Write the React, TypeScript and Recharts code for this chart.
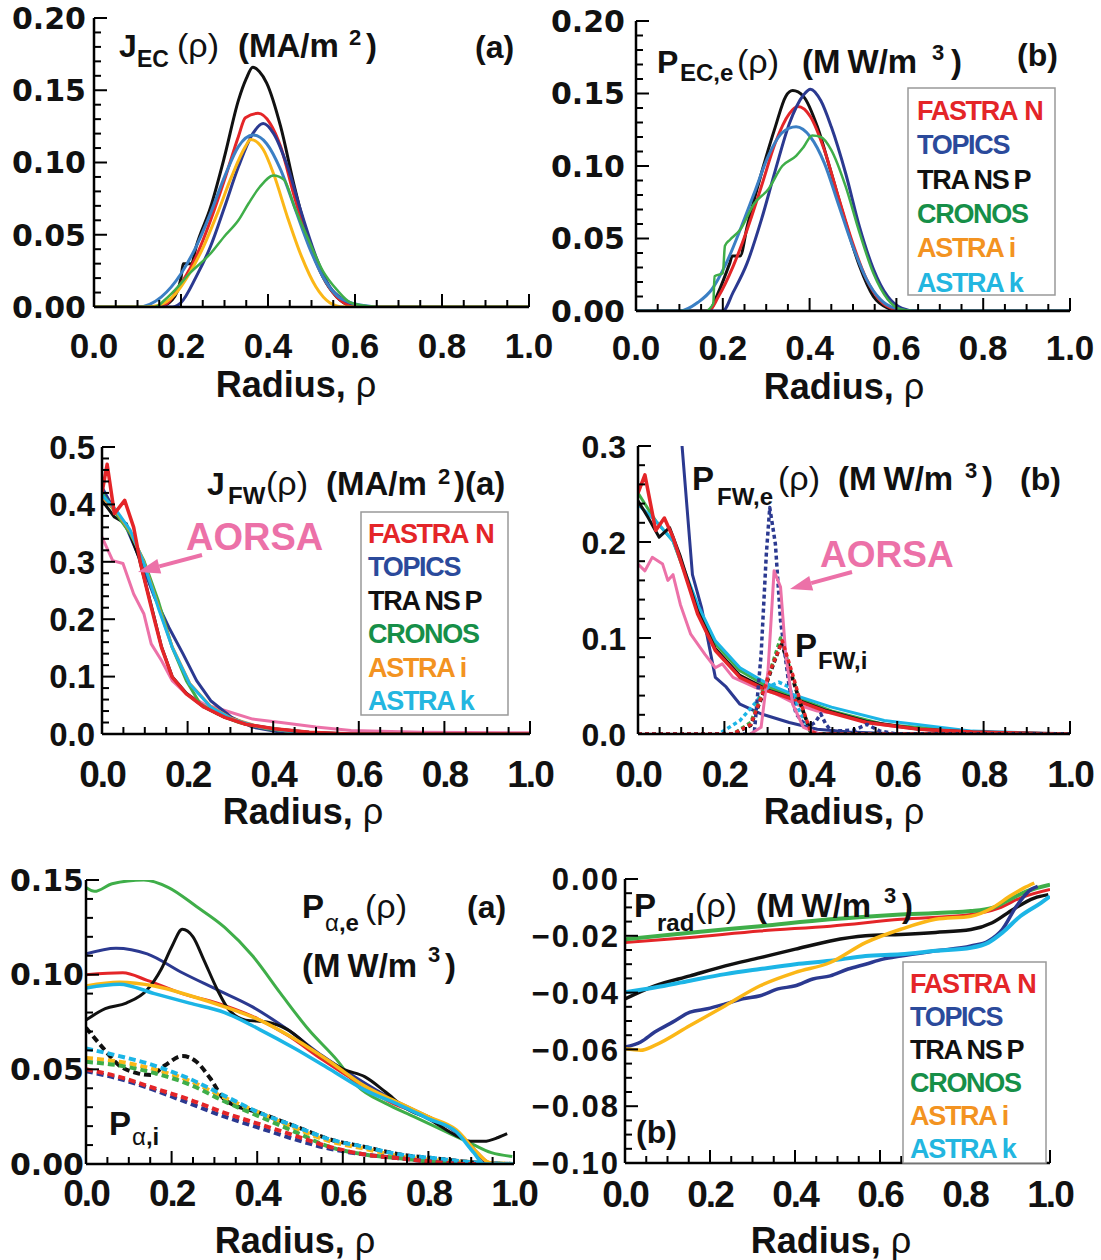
import React from "react";
import { LineChart, Line, XAxis, YAxis } from "recharts";

type Pt = [number, number];

// ---- colours ----
const RED = "#e42528";
const BLUE = "#2b3990";
const BLACK = "#111111";
const GREEN = "#3fae49";
const YELLOW = "#fbb717";
const STEEL = "#3b7fc4";
const CYAN = "#1cb5e6";
const PINK = "#ec71a8";

const LS = "'Liberation Sans', Arial, sans-serif";
const DV = "'DejaVu Sans', sans-serif";

// ---- shared axis labels ----
const xMajor = [0, 0.2, 0.4, 0.6, 0.8, 1.0];
const xLabels = ["0.0", "0.2", "0.4", "0.6", "0.8", "1.0"];

// ---- (1) J_EC ----
const ecJFastran: Pt[] = [[0, 0], [0.15, 0], [0.17, 0.003], [0.2, 0.016], [0.235, 0.035], [0.268, 0.06], [0.3, 0.088], [0.332, 0.118], [0.348, 0.131], [0.377, 0.134], [0.405, 0.127], [0.429, 0.111], [0.461, 0.076], [0.494, 0.044], [0.526, 0.021], [0.558, 0.007], [0.59, 0.001], [0.62, 0], [1, 0]];
const ecJTopics: Pt[] = [[0, 0], [0.18, 0], [0.2, 0.003], [0.235, 0.021], [0.268, 0.042], [0.3, 0.069], [0.332, 0.097], [0.365, 0.12], [0.389, 0.127], [0.413, 0.12], [0.445, 0.097], [0.477, 0.065], [0.51, 0.035], [0.542, 0.014], [0.574, 0.005], [0.606, 0.001], [0.63, 0], [1, 0]];
const ecJTransp: Pt[] = [[0, 0], [0.15, 0], [0.18, 0.005], [0.2, 0.02], [0.205, 0.03], [0.224, 0.03], [0.235, 0.042], [0.268, 0.069], [0.3, 0.104], [0.332, 0.143], [0.35, 0.158], [0.365, 0.166], [0.38, 0.163], [0.397, 0.155], [0.429, 0.125], [0.461, 0.083], [0.494, 0.046], [0.526, 0.021], [0.558, 0.007], [0.59, 0.001], [0.62, 0], [1, 0]];
const ecJCronos: Pt[] = [[0, 0], [0.14, 0], [0.163, 0.005], [0.187, 0.012], [0.219, 0.023], [0.268, 0.037], [0.3, 0.049], [0.332, 0.06], [0.356, 0.072], [0.381, 0.083], [0.413, 0.091], [0.437, 0.088], [0.461, 0.069], [0.494, 0.046], [0.526, 0.025], [0.558, 0.012], [0.59, 0.003], [0.62, 0.001], [0.65, 0], [1, 0]];
const ecJAstraI: Pt[] = [[0, 0], [0.12, 0], [0.147, 0.001], [0.187, 0.009], [0.219, 0.023], [0.252, 0.042], [0.284, 0.065], [0.316, 0.09], [0.348, 0.111], [0.36, 0.116], [0.389, 0.109], [0.413, 0.092], [0.445, 0.062], [0.477, 0.035], [0.51, 0.014], [0.542, 0.003], [0.574, 0], [1, 0]];
const ecJAstraK: Pt[] = [[0, 0], [0.1, 0], [0.155, 0.007], [0.2, 0.023], [0.235, 0.042], [0.268, 0.065], [0.3, 0.09], [0.332, 0.111], [0.365, 0.119], [0.397, 0.113], [0.429, 0.095], [0.461, 0.069], [0.494, 0.042], [0.526, 0.021], [0.558, 0.008], [0.59, 0.003], [0.62, 0.001], [0.65, 0], [1, 0]];

// ---- (2) P_EC,e ----
const ecPFastran: Pt[] = [[0, 0], [0.167, 0], [0.19, 0.01], [0.224, 0.031], [0.256, 0.056], [0.289, 0.086], [0.321, 0.116], [0.353, 0.136], [0.373, 0.141], [0.402, 0.134], [0.434, 0.111], [0.466, 0.079], [0.499, 0.047], [0.531, 0.022], [0.563, 0.007], [0.596, 0.001], [0.62, 0], [1, 0]];
const ecPTopics: Pt[] = [[0, 0], [0.2, 0], [0.224, 0.013], [0.256, 0.033], [0.289, 0.063], [0.321, 0.097], [0.353, 0.129], [0.386, 0.149], [0.402, 0.153], [0.426, 0.145], [0.45, 0.127], [0.483, 0.095], [0.515, 0.058], [0.547, 0.029], [0.58, 0.01], [0.612, 0.002], [0.644, 0], [1, 0]];
const ecPTransp: Pt[] = [[0, 0], [0.167, 0], [0.19, 0.013], [0.216, 0.033], [0.222, 0.038], [0.24, 0.038], [0.256, 0.058], [0.289, 0.095], [0.321, 0.127], [0.345, 0.148], [0.361, 0.152], [0.386, 0.148], [0.418, 0.127], [0.45, 0.095], [0.483, 0.061], [0.515, 0.031], [0.547, 0.01], [0.58, 0.002], [0.61, 0], [1, 0]];
const ecPCronos: Pt[] = [[0, 0], [0.159, 0], [0.178, 0.005], [0.181, 0.024], [0.2, 0.026], [0.205, 0.045], [0.216, 0.049], [0.24, 0.056], [0.272, 0.074], [0.305, 0.084], [0.337, 0.1], [0.369, 0.107], [0.386, 0.113], [0.406, 0.121], [0.426, 0.12], [0.45, 0.111], [0.483, 0.086], [0.515, 0.054], [0.547, 0.026], [0.58, 0.008], [0.612, 0.001], [0.64, 0], [1, 0]];
const ecPAstraK: Pt[] = [[0, 0], [0.1, 0], [0.143, 0.006], [0.175, 0.015], [0.208, 0.033], [0.24, 0.056], [0.272, 0.081], [0.305, 0.107], [0.337, 0.123], [0.369, 0.127], [0.402, 0.12], [0.434, 0.102], [0.466, 0.074], [0.499, 0.045], [0.531, 0.022], [0.563, 0.008], [0.596, 0.002], [0.644, 0], [1, 0]];

// ---- (3) J_FW ----
const fwJFastran: Pt[] = [[0, 0.42], [0.012, 0.47], [0.029, 0.384], [0.053, 0.407], [0.074, 0.36], [0.09, 0.297], [0.115, 0.221], [0.139, 0.151], [0.164, 0.099], [0.197, 0.07], [0.238, 0.047], [0.287, 0.029], [0.336, 0.017], [0.402, 0.009], [0.484, 0.003], [0.582, 0], [1, 0]];
const fwJTopics: Pt[] = [[0, 0.43], [0.025, 0.395], [0.057, 0.36], [0.09, 0.302], [0.123, 0.238], [0.156, 0.186], [0.189, 0.14], [0.221, 0.093], [0.254, 0.058], [0.303, 0.029], [0.352, 0.012], [0.418, 0.003], [0.5, 0], [1, 0]];
const fwJTransp: Pt[] = [[0, 0.407], [0.029, 0.378], [0.057, 0.366], [0.086, 0.308], [0.115, 0.224], [0.139, 0.152], [0.164, 0.1], [0.197, 0.071], [0.238, 0.047], [0.287, 0.029], [0.336, 0.017], [0.402, 0.009], [0.484, 0.003], [0.582, 0], [1, 0]];
const fwJCronos: Pt[] = [[0, 0.42], [0.033, 0.384], [0.066, 0.349], [0.098, 0.302], [0.131, 0.233], [0.164, 0.151], [0.197, 0.093], [0.23, 0.052], [0.27, 0.035], [0.32, 0.02], [0.385, 0.009], [0.467, 0.002], [0.55, 0], [1, 0]];
const fwJAstraI: Pt[] = [[0, 0.413], [0.033, 0.388], [0.066, 0.353], [0.098, 0.299], [0.131, 0.224], [0.164, 0.152], [0.205, 0.088], [0.254, 0.048], [0.303, 0.027], [0.369, 0.012], [0.451, 0.003], [0.55, 0], [1, 0]];
const fwJAstraK: Pt[] = [[0, 0.416], [0.033, 0.39], [0.066, 0.355], [0.098, 0.297], [0.131, 0.221], [0.164, 0.151], [0.205, 0.087], [0.254, 0.047], [0.303, 0.026], [0.369, 0.012], [0.451, 0.003], [0.55, 0], [1, 0]];
const fwJAorsa: Pt[] = [[0, 0.343], [0.025, 0.302], [0.049, 0.297], [0.074, 0.244], [0.098, 0.209], [0.115, 0.157], [0.139, 0.128], [0.164, 0.093], [0.197, 0.07], [0.238, 0.052], [0.287, 0.041], [0.352, 0.026], [0.418, 0.02], [0.5, 0.012], [0.582, 0.006], [0.746, 0.003], [1, 0.002]];

// ---- (4) P_FW,e (solid) and P_FW,i (dotted) ----
const fwPFastran: Pt[] = [[0, 0.251], [0.016, 0.27], [0.041, 0.212], [0.061, 0.225], [0.081, 0.205], [0.106, 0.17], [0.138, 0.125], [0.179, 0.087], [0.236, 0.059], [0.301, 0.045], [0.366, 0.035], [0.432, 0.024], [0.529, 0.012], [0.651, 0.005], [0.774, 0.002], [1, 0]];
const fwPTopics: Pt[] = [[0, 0.6], [0.05, 0.48], [0.09, 0.36], [0.102, 0.3], [0.126, 0.166], [0.147, 0.132], [0.179, 0.059], [0.204, 0.049], [0.236, 0.031], [0.285, 0.021], [0.35, 0.012], [0.415, 0.005], [0.489, 0.002], [0.61, 0], [1, 0]];
const fwPTransp: Pt[] = [[0, 0.243], [0.024, 0.225], [0.049, 0.205], [0.073, 0.215], [0.098, 0.185], [0.138, 0.128], [0.179, 0.089], [0.236, 0.061], [0.301, 0.046], [0.366, 0.036], [0.432, 0.025], [0.529, 0.013], [0.651, 0.005], [0.774, 0.002], [1, 0]];
const fwPCronos: Pt[] = [[0, 0.251], [0.041, 0.222], [0.081, 0.201], [0.138, 0.132], [0.179, 0.094], [0.236, 0.066], [0.301, 0.049], [0.366, 0.038], [0.448, 0.024], [0.57, 0.01], [0.774, 0.002], [1, 0]];
const fwPAstraK: Pt[] = [[0, 0.239], [0.041, 0.222], [0.081, 0.201], [0.138, 0.135], [0.179, 0.097], [0.236, 0.069], [0.301, 0.052], [0.366, 0.04], [0.448, 0.028], [0.57, 0.014], [0.774, 0.003], [1, 0]];
const fwPAorsa: Pt[] = [[0, 0.177], [0.016, 0.17], [0.033, 0.184], [0.057, 0.177], [0.069, 0.16], [0.081, 0.166], [0.098, 0.135], [0.122, 0.104], [0.155, 0.083], [0.179, 0.069], [0.195, 0.073], [0.22, 0.059], [0.269, 0.049], [0.318, 0.042], [0.366, 0.031], [0.415, 0.024], [0.464, 0.021], [0.529, 0.012], [0.61, 0.007], [0.733, 0.002], [1, 0]];
const fwPiAorsa: Pt[] = [[0.26, 0], [0.285, 0.007], [0.301, 0.066], [0.315, 0.17], [0.33, 0.153], [0.342, 0.083], [0.358, 0.031], [0.383, 0.007], [0.42, 0]];
const fwPiTopics: Pt[] = [[0, 0], [0.269, 0], [0.285, 0.083], [0.297, 0.187], [0.305, 0.236], [0.318, 0.198], [0.33, 0.118], [0.35, 0.049], [0.366, 0.021], [0.391, 0.007], [0.41, 0.012], [0.423, 0.021], [0.435, 0.01], [0.448, 0.003], [0.5, 0.004], [0.53, 0.01], [0.56, 0.003], [0.6, 0], [1, 0]];
const fwPiFastran: Pt[] = [[0, 0], [0.22, 0], [0.261, 0.01], [0.285, 0.038], [0.309, 0.069], [0.334, 0.097], [0.358, 0.062], [0.375, 0.035], [0.399, 0.003], [0.415, 0], [1, 0]];
const fwPiTransp: Pt[] = [[0, 0], [0.22, 0], [0.261, 0.009], [0.285, 0.036], [0.309, 0.067], [0.332, 0.095], [0.356, 0.06], [0.375, 0.033], [0.399, 0.003], [0.415, 0], [1, 0]];
const fwPiCronos: Pt[] = [[0, 0], [0.22, 0], [0.261, 0.012], [0.285, 0.04], [0.309, 0.07], [0.33, 0.1], [0.356, 0.062], [0.375, 0.033], [0.399, 0.002], [0.415, 0], [1, 0]];
const fwPiAstraK: Pt[] = [[0, 0], [0.187, 0], [0.236, 0.014], [0.269, 0.031], [0.301, 0.049], [0.326, 0.054], [0.35, 0.049], [0.366, 0.031], [0.399, 0.003], [0.42, 0], [1, 0]];

// ---- (5) P_alpha,e (solid) and P_alpha,i (dashed) ----
const alECronos: Pt[] = [[0, 0.146], [0.02, 0.144], [0.061, 0.148], [0.135, 0.15], [0.193, 0.146], [0.258, 0.136], [0.324, 0.125], [0.389, 0.11], [0.455, 0.09], [0.52, 0.071], [0.586, 0.055], [0.635, 0.041], [0.7, 0.032], [0.766, 0.025], [0.832, 0.018], [0.898, 0.011], [0.947, 0.006], [0.996, 0.004]];
const alETopics: Pt[] = [[0, 0.111], [0.07, 0.114], [0.143, 0.111], [0.225, 0.101], [0.307, 0.092], [0.389, 0.083], [0.471, 0.071], [0.553, 0.057], [0.635, 0.045], [0.717, 0.034], [0.799, 0.025], [0.857, 0.018], [0.898, 0.01], [0.93, 0.002], [0.947, 0], [1, 0]];
const alEFastran: Pt[] = [[0, 0.1], [0.086, 0.101], [0.143, 0.097], [0.225, 0.09], [0.307, 0.085], [0.389, 0.078], [0.471, 0.068], [0.553, 0.055], [0.635, 0.043], [0.717, 0.032], [0.799, 0.025], [0.865, 0.017], [0.914, 0.006], [0.939, 0.001], [0.96, 0], [1, 0]];
const alEAstraI: Pt[] = [[0, 0.094], [0.078, 0.096], [0.16, 0.094], [0.242, 0.089], [0.324, 0.083], [0.406, 0.076], [0.488, 0.066], [0.57, 0.054], [0.652, 0.041], [0.734, 0.032], [0.799, 0.025], [0.865, 0.018], [0.914, 0.006], [0.939, 0.001], [0.96, 0], [1, 0]];
const alEAstraK: Pt[] = [[0, 0.093], [0.078, 0.095], [0.16, 0.09], [0.242, 0.085], [0.324, 0.08], [0.406, 0.071], [0.488, 0.061], [0.57, 0.05], [0.652, 0.039], [0.734, 0.031], [0.799, 0.024], [0.865, 0.017], [0.906, 0.006], [0.93, 0], [1, 0]];
const alETransp: Pt[] = [[0, 0.076], [0.045, 0.082], [0.094, 0.085], [0.143, 0.092], [0.176, 0.103], [0.201, 0.115], [0.225, 0.124], [0.25, 0.12], [0.275, 0.108], [0.307, 0.092], [0.332, 0.082], [0.373, 0.076], [0.422, 0.075], [0.471, 0.071], [0.537, 0.059], [0.602, 0.05], [0.652, 0.046], [0.7, 0.038], [0.75, 0.029], [0.799, 0.024], [0.865, 0.015], [0.898, 0.012], [0.93, 0.012], [0.963, 0.014], [0.984, 0.016]];
const alITransp: Pt[] = [[0, 0.072], [0.037, 0.062], [0.078, 0.052], [0.119, 0.048], [0.152, 0.047], [0.184, 0.052], [0.225, 0.057], [0.258, 0.054], [0.291, 0.045], [0.324, 0.034], [0.406, 0.027], [0.488, 0.02], [0.57, 0.013], [0.652, 0.009], [0.734, 0.005], [0.816, 0.003], [0.898, 0.001], [1, 0]];
const alIAstraK: Pt[] = [[0, 0.061], [0.078, 0.057], [0.16, 0.052], [0.242, 0.045], [0.324, 0.036], [0.406, 0.027], [0.488, 0.02], [0.57, 0.013], [0.652, 0.009], [0.734, 0.005], [0.816, 0.003], [0.898, 0.001], [1, 0]];
const alIAstraI: Pt[] = [[0, 0.056], [0.078, 0.054], [0.16, 0.05], [0.242, 0.044], [0.324, 0.035], [0.406, 0.027], [0.488, 0.019], [0.57, 0.012], [0.652, 0.008], [0.734, 0.004], [0.816, 0.002], [0.898, 0.001], [1, 0]];
const alICronos: Pt[] = [[0, 0.054], [0.078, 0.052], [0.16, 0.048], [0.242, 0.042], [0.324, 0.033], [0.406, 0.025], [0.488, 0.017], [0.57, 0.009], [0.652, 0.005], [0.734, 0.003], [0.816, 0.001], [0.9, 0], [1, 0]];
const alIFastran: Pt[] = [[0, 0.05], [0.078, 0.046], [0.16, 0.04], [0.242, 0.034], [0.324, 0.027], [0.406, 0.021], [0.488, 0.015], [0.57, 0.009], [0.652, 0.005], [0.734, 0.003], [0.816, 0.001], [0.9, 0], [1, 0]];
const alITopics: Pt[] = [[0, 0.049], [0.078, 0.045], [0.16, 0.039], [0.242, 0.032], [0.324, 0.025], [0.406, 0.019], [0.488, 0.013], [0.57, 0.008], [0.652, 0.005], [0.734, 0.003], [0.816, 0.001], [0.9, 0], [1, 0]];

// ---- (6) P_rad ----
const radCronos: Pt[] = [[0, -0.0212], [0.153, -0.0189], [0.318, -0.0166], [0.483, -0.0142], [0.649, -0.0125], [0.814, -0.0113], [0.864, -0.0102], [0.897, -0.0078], [0.946, -0.0043], [1, -0.002]];
const radFastran: Pt[] = [[0, -0.0224], [0.153, -0.0206], [0.318, -0.0183], [0.483, -0.0166], [0.649, -0.0142], [0.814, -0.0125], [0.88, -0.0102], [0.93, -0.0067], [1, -0.0037]];
const radTransp: Pt[] = [[0, -0.0422], [0.07, -0.0376], [0.153, -0.0341], [0.236, -0.0306], [0.318, -0.0277], [0.401, -0.0247], [0.483, -0.0218], [0.566, -0.02], [0.649, -0.0195], [0.731, -0.0188], [0.814, -0.0178], [0.864, -0.0154], [0.913, -0.0107], [0.963, -0.0067], [0.996, -0.0055]];
const radAstraK: Pt[] = [[0, -0.0399], [0.07, -0.0382], [0.153, -0.0358], [0.236, -0.0335], [0.318, -0.0317], [0.401, -0.03], [0.483, -0.0288], [0.566, -0.0271], [0.649, -0.0265], [0.731, -0.0253], [0.814, -0.0242], [0.855, -0.0224], [0.888, -0.0189], [0.93, -0.0131], [0.979, -0.0084], [1, -0.0061]];
const radTopics: Pt[] = [[0, -0.0592], [0.037, -0.0574], [0.07, -0.0539], [0.112, -0.0504], [0.153, -0.0469], [0.194, -0.0457], [0.236, -0.044], [0.277, -0.0422], [0.318, -0.0411], [0.36, -0.0387], [0.401, -0.0376], [0.442, -0.0352], [0.483, -0.0341], [0.525, -0.0317], [0.566, -0.03], [0.607, -0.0282], [0.649, -0.0271], [0.731, -0.0253], [0.814, -0.0236], [0.855, -0.0218], [0.888, -0.0177], [0.921, -0.0096], [0.955, -0.0037], [0.971, -0.0026]];
const radAstraI: Pt[] = [[0, -0.0598], [0.037, -0.0603], [0.07, -0.0586], [0.153, -0.0516], [0.236, -0.0446], [0.318, -0.0376], [0.401, -0.0329], [0.483, -0.0294], [0.566, -0.0224], [0.649, -0.0177], [0.731, -0.0142], [0.814, -0.0131], [0.864, -0.0102], [0.905, -0.0061], [0.938, -0.0032], [0.963, -0.0014]];

// ---- legend ----
const legendNames = ["FASTRAN", "TOPICS", "TRANSP", "CRONOS", "ASTRA i", "ASTRA k"];
const legendColors = ["#e42528", "#2b4a9b", "#111111", "#168f48", "#f39321", "#23b6e0"];

type Series = { pts: Pt[]; color: string; width?: number; dash?: string; curve?: "linear" | "monotone" };
type Box = { l: number; t: number; r: number; b: number };

function steps(a: number, b: number, s: number) {
  const out: number[] = [];
  const n = Math.round((b - a) / s);
  for (let i = 0; i <= n; i++) out.push(Math.round((a + i * s) * 1e6) / 1e6);
  return out;
}

function findIdx(arr: number[], v: number) {
  return arr.findIndex((m) => Math.abs(m - v) < 1e-7);
}

type PanelProps = {
  box: Box;
  yDomain: [number, number];
  yMajor: number[];
  yLabels: string[];
  yMinor: number;
  yFont: { size: number; family: string; gap: number; ls?: number };
  xFont: { size: number; dy: number; ls?: number };
  series: Series[];
};

function Panel({ box, yDomain, yMajor, yLabels, yMinor, yFont, xFont, series }: PanelProps) {
  const ML = 130, MT = 30, MR = 45, MB = 80;
  const w = box.r - box.l + ML + MR;
  const h = box.b - box.t + MT + MB;
  const xTicks = steps(0, 1, 0.05);
  const yTicks = steps(yDomain[0], yDomain[1], yMinor);
  const AX = { stroke: "#000", strokeWidth: 2.5 };
  const MAJ = 13, MIN = 7;

  const bottomTick = (p: any) => {
    const i = findIdx(xMajor, p.payload.value);
    const len = i >= 0 ? MAJ : MIN;
    return (
      <g>
        <line x1={p.x} x2={p.x} y1={p.y} y2={p.y - len} stroke="#000" strokeWidth={2} />
        {i >= 0 && (
          <text x={p.x} y={p.y + xFont.dy} textAnchor="middle" fontFamily={LS} fontWeight="bold" fontSize={xFont.size} letterSpacing={xFont.ls ?? 0} fill="#111">
            {xLabels[i]}
          </text>
        )}
      </g>
    );
  };
  const topTick = (p: any) => {
    const len = findIdx(xMajor, p.payload.value) >= 0 ? MAJ : MIN;
    return <line x1={p.x} x2={p.x} y1={p.y} y2={p.y + len} stroke="#000" strokeWidth={2} />;
  };
  const leftTick = (p: any) => {
    const i = findIdx(yMajor, p.payload.value);
    const len = i >= 0 ? MAJ : MIN;
    return (
      <g>
        <line x1={p.x} x2={p.x + len} y1={p.y} y2={p.y} stroke="#000" strokeWidth={2} />
        {i >= 0 && (
          <text x={p.x - yFont.gap} y={p.y + yFont.size * 0.36} textAnchor="end" fontFamily={yFont.family} fontWeight="bold" fontSize={yFont.size} letterSpacing={yFont.ls ?? 0} fill="#111">
            {yLabels[i]}
          </text>
        )}
      </g>
    );
  };
  const rightTick = (p: any) => {
    const len = findIdx(yMajor, p.payload.value) >= 0 ? MAJ : MIN;
    return <line x1={p.x} x2={p.x - len} y1={p.y} y2={p.y} stroke="#000" strokeWidth={2} />;
  };

  return (
    <div style={{ position: "absolute", left: box.l - ML, top: box.t - MT }}>
      <LineChart width={w} height={h} margin={{ top: MT, right: MR, bottom: 0, left: 0 }}>
        <XAxis xAxisId="b" type="number" dataKey="x" domain={[0, 1]} ticks={xTicks} interval={0} allowDataOverflow tickSize={0} tickMargin={0} tickLine={false} axisLine={AX} height={MB} tick={bottomTick} />
        <XAxis xAxisId="t" orientation="top" type="number" dataKey="x" domain={[0, 1]} ticks={xTicks} interval={0} allowDataOverflow tickSize={0} tickMargin={0} tickLine={false} axisLine={AX} height={0} tick={topTick} />
        <YAxis yAxisId="l" type="number" domain={yDomain} ticks={yTicks} interval={0} allowDataOverflow tickSize={0} tickMargin={0} tickLine={false} axisLine={AX} width={ML} tick={leftTick} />
        <YAxis yAxisId="r" orientation="right" type="number" domain={yDomain} ticks={yTicks} interval={0} allowDataOverflow tickSize={0} tickMargin={0} tickLine={false} axisLine={AX} width={0} tick={rightTick} />
        {series.map((s, k) => (
          <Line
            key={k}
            xAxisId="b"
            yAxisId="l"
            data={s.pts.map(([x, y]) => ({ x, y }))}
            dataKey="y"
            type={s.curve ?? "monotone"}
            stroke={s.color}
            strokeWidth={s.width ?? 3}
            strokeDasharray={s.dash}
            strokeLinejoin="round"
            dot={false}
            activeDot={false}
            isAnimationActive={false}
          />
        ))}
      </LineChart>
    </div>
  );
}

const T = ({ x, y, s, w = "bold", c = "#111", a = "start", children }: any) => (
  <text x={x} y={y} fontSize={s} fontWeight={w} fill={c} textAnchor={a} fontFamily={LS}>
    {children}
  </text>
);

function LegendName({ name }: { name: string }) {
  if (name === "FASTRAN") return (<><tspan>FASTRA</tspan><tspan dx={7}>N</tspan></>);
  if (name === "TRANSP") return (<><tspan>TRA</tspan><tspan dx={5}>NS</tspan><tspan dx={5}>P</tspan></>);
  return <>{name}</>;
}

function Legend({ x, y, w, h, tx, ty, step }: { x: number; y: number; w: number; h: number; tx: number; ty: number; step: number }) {
  return (
    <g>
      <rect x={x} y={y} width={w} height={h} fill="#fff" stroke="#999" strokeWidth={1.5} />
      {legendNames.map((n, i) => (
        <text key={n} x={tx} y={ty + i * step} fontFamily={LS} fontWeight="bold" fontSize={27} letterSpacing={-1.3} fill={legendColors[i]}>
          <LegendName name={n} />
        </text>
      ))}
    </g>
  );
}

function Arrow({ x1, y1, x2, y2 }: { x1: number; y1: number; x2: number; y2: number }) {
  const dx = x2 - x1, dy = y2 - y1;
  const L = Math.hypot(dx, dy);
  const ux = dx / L, uy = dy / L;
  const hl = 22, hw = 7.5;
  const bx = x2 - ux * hl, by = y2 - uy * hl;
  const pts = `${x2},${y2} ${bx - uy * hw},${by + ux * hw} ${bx + uy * hw},${by - ux * hw}`;
  return (
    <g>
      <line x1={x1} y1={y1} x2={bx} y2={by} stroke={PINK} strokeWidth={4} />
      <polygon points={pts} fill={PINK} />
    </g>
  );
}

function Radius({ x, y }: { x: number; y: number }) {
  return (
    <text x={x} y={y} textAnchor="middle" fontFamily={LS} fontSize={36} fill="#111">
      <tspan fontWeight="bold">Radius, </tspan>
      <tspan fontWeight="normal">ρ</tspan>
    </text>
  );
}

export default function App() {
  const ecMajor = [0, 0.05, 0.1, 0.15, 0.2];
  const ecLabels = ["0.00", "0.05", "0.10", "0.15", "0.20"];
  const fwJMajor = [0, 0.1, 0.2, 0.3, 0.4, 0.5];
  const fwJLabels = ["0.0", "0.1", "0.2", "0.3", "0.4", "0.5"];
  const fwPMajor = [0, 0.1, 0.2, 0.3];
  const fwPLabels = ["0.0", "0.1", "0.2", "0.3"];
  const alMajor = [0, 0.05, 0.1, 0.15];
  const alLabels = ["0.00", "0.05", "0.10", "0.15"];
  const radMajor = [-0.1, -0.08, -0.06, -0.04, -0.02, 0];
  const radLabels = ["\u22120.10", "\u22120.08", "\u22120.06", "\u22120.04", "\u22120.02", "0.00"];

  return (
    <div style={{ position: "absolute", left: 0, top: 0, width: 1101, height: 1260, background: "#fff", overflow: "hidden" }}>
      <Panel
        box={{ l: 94, t: 18, r: 529, b: 307 }}
        yDomain={[0, 0.2]} yMajor={ecMajor} yLabels={ecLabels} yMinor={0.01}
        yFont={{ size: 30, family: DV, gap: 8 }} xFont={{ size: 35, dy: 51 }}
        series={[
          { pts: ecJTransp, color: BLACK },
          { pts: ecJFastran, color: RED },
          { pts: ecJTopics, color: BLUE },
          { pts: ecJAstraK, color: STEEL },
          { pts: ecJAstraI, color: YELLOW },
          { pts: ecJCronos, color: GREEN, width: 2.5 },
        ]}
      />
      <Panel
        box={{ l: 636, t: 21, r: 1070, b: 311 }}
        yDomain={[0, 0.2]} yMajor={ecMajor} yLabels={ecLabels} yMinor={0.01}
        yFont={{ size: 30, family: DV, gap: 11 }} xFont={{ size: 35, dy: 49 }}
        series={[
          { pts: ecPTransp, color: BLACK },
          { pts: ecPFastran, color: RED },
          { pts: ecPTopics, color: BLUE },
          { pts: ecPAstraK, color: STEEL },
          { pts: ecPCronos, color: GREEN, width: 2.5 },
        ]}
      />
      <Panel
        box={{ l: 102, t: 447, r: 530, b: 734 }}
        yDomain={[0, 0.5]} yMajor={fwJMajor} yLabels={fwJLabels} yMinor={0.02}
        yFont={{ size: 33, family: LS, gap: 7 }} xFont={{ size: 37, dy: 53, ls: -2 }}
        series={[
          { pts: fwJAorsa, color: PINK, curve: "linear" },
          { pts: fwJTopics, color: BLUE, curve: "linear" },
          { pts: fwJTransp, color: BLACK, curve: "linear" },
          { pts: fwJCronos, color: GREEN, curve: "linear" },
          { pts: fwJAstraI, color: "#f39321", curve: "linear" },
          { pts: fwJAstraK, color: CYAN, curve: "linear" },
          { pts: fwJFastran, color: RED, curve: "linear", width: 3.5 },
        ]}
      />
      <Panel
        box={{ l: 638, t: 446, r: 1070, b: 734 }}
        yDomain={[0, 0.3]} yMajor={fwPMajor} yLabels={fwPLabels} yMinor={0.02}
        yFont={{ size: 32, family: LS, gap: 12 }} xFont={{ size: 37, dy: 53, ls: -2 }}
        series={[
          { pts: fwPTopics, color: BLUE, curve: "linear" },
          { pts: fwPAorsa, color: PINK, curve: "linear" },
          { pts: fwPCronos, color: GREEN, curve: "linear" },
          { pts: fwPAstraK, color: CYAN, curve: "linear" },
          { pts: fwPTransp, color: BLACK, curve: "linear" },
          { pts: fwPFastran, color: RED, curve: "linear", width: 3.5 },
          { pts: fwPiAstraK, color: CYAN, curve: "linear", dash: "4 3", width: 3.5 },
          { pts: fwPiCronos, color: GREEN, curve: "linear", dash: "4 3", width: 3.5 },
          { pts: fwPiTransp, color: BLACK, curve: "linear", dash: "4 3", width: 3.5 },
          { pts: fwPiTopics, color: BLUE, curve: "linear", dash: "4 3", width: 3.5 },
          { pts: fwPiAorsa, color: PINK, curve: "linear", width: 3 },
          { pts: fwPiFastran, color: RED, curve: "linear", dash: "4 3", width: 3.5 },
        ]}
      />
      <Panel
        box={{ l: 86, t: 880, r: 514, b: 1164 }}
        yDomain={[0, 0.15]} yMajor={alMajor} yLabels={alLabels} yMinor={0.01}
        yFont={{ size: 30, family: DV, gap: 2 }} xFont={{ size: 37, dy: 42, ls: -2 }}
        series={[
          { pts: alITransp, color: BLACK, dash: "7 4", width: 4 },
          { pts: alIAstraI, color: YELLOW, dash: "7 4", width: 4 },
          { pts: alICronos, color: GREEN, dash: "7 4", width: 4 },
          { pts: alIAstraK, color: CYAN, dash: "7 4", width: 4 },
          { pts: alITopics, color: BLUE, dash: "7 4", width: 4 },
          { pts: alIFastran, color: RED, dash: "7 4", width: 4 },
          { pts: alECronos, color: GREEN },
          { pts: alETopics, color: BLUE },
          { pts: alEFastran, color: RED },
          { pts: alETransp, color: BLACK },
          { pts: alEAstraI, color: YELLOW, width: 3.5 },
          { pts: alEAstraK, color: CYAN, width: 3.5 },
        ]}
      />
      <Panel
        box={{ l: 625, t: 879, r: 1050, b: 1163 }}
        yDomain={[-0.1, 0]} yMajor={radMajor} yLabels={radLabels} yMinor={0.005}
        yFont={{ size: 31, family: LS, gap: 5, ls: 2 }} xFont={{ size: 37, dy: 44, ls: -2 }}
        series={[
          { pts: radFastran, color: RED, width: 3 },
          { pts: radCronos, color: GREEN, width: 4 },
          { pts: radTransp, color: BLACK, width: 3.5 },
          { pts: radTopics, color: BLUE, width: 3.5 },
          { pts: radAstraK, color: CYAN, width: 4 },
          { pts: radAstraI, color: YELLOW, width: 3.5 },
        ]}
      />

      <svg width={1101} height={1260} style={{ position: "absolute", left: 0, top: 0, pointerEvents: "none" }}>
        {/* panel 1 title */}
        <T x={119} y={57} s={32}>J</T>
        <T x={137} y={67} s={23}>EC</T>
        <T x={177} y={57} s={34} w="normal">(ρ)</T>
        <T x={238} y={57} s={33}>(MA/m</T>
        <T x={349} y={45} s={22}>2</T>
        <T x={366} y={57} s={33}>)</T>
        <T x={475} y={58} s={32}>(a)</T>

        {/* panel 2 title */}
        <T x={657} y={73} s={32}>P</T>
        <T x={680} y={81} s={24}>EC,e</T>
        <T x={737} y={73} s={34} w="normal">(ρ)</T>
        <text x={802} y={73} fontSize={33} fontWeight="bold" fontFamily={LS} fill="#111"><tspan>(M</tspan><tspan dx={7}>W/m</tspan></text>
        <T x={932} y={60} s={22}>3</T>
        <T x={951} y={73} s={33}>)</T>
        <T x={1017} y={66} s={32}>(b)</T>
        <Legend x={908} y={88} w={147} h={207} tx={917} ty={120} step={34.3} />
        <Radius x={296} y={397} />
        <Radius x={844} y={399} />

        {/* panel 3 */}
        <T x={207} y={495} s={32}>J</T>
        <T x={228} y={504} s={24}>FW</T>
        <T x={266} y={495} s={34} w="normal">(ρ)</T>
        <T x={326} y={495} s={33}>(MA/m</T>
        <T x={438} y={484} s={22}>2</T>
        <T x={454} y={495} s={33}>)(a)</T>
        <Legend x={361} y={512} w={147} h={203} tx={368} ty={543} step={33.4} />
        <T x={186} y={550} s={38} c={PINK}>AORSA</T>
        <Arrow x1={202} y1={555} x2={138} y2={572} />
        <Radius x={303} y={824} />

        {/* panel 4 */}
        <T x={692} y={490} s={33}>P</T>
        <T x={717} y={505} s={24}>FW,e</T>
        <T x={778} y={490} s={34} w="normal">(ρ)</T>
        <text x={838} y={490} fontSize={33} fontWeight="bold" fontFamily={LS} fill="#111"><tspan>(M</tspan><tspan dx={7}>W/m</tspan></text>
        <T x={965} y={478} s={22}>3</T>
        <T x={982} y={490} s={33}>)</T>
        <T x={1020} y={490} s={32}>(b)</T>
        <T x={820} y={567} s={37} c={PINK}>AORSA</T>
        <Arrow x1={852} y1={572} x2={790} y2={589} />
        <T x={795} y={657} s={33}>P</T>
        <T x={818} y={669} s={24}>FW,i</T>
        <Radius x={844} y={824} />

        {/* panel 5 */}
        <T x={302} y={918} s={33}>P</T>
        <text x={325} y={931} fontSize={24} fontFamily={LS} fill="#111"><tspan fontWeight="normal">α</tspan><tspan fontWeight="bold">,e</tspan></text>
        <T x={365} y={918} s={34} w="normal">(ρ)</T>
        <text x={302} y={977} fontSize={33} fontWeight="bold" fontFamily={LS} fill="#111"><tspan>(M</tspan><tspan dx={7}>W/m</tspan></text>
        <T x={428} y={962} s={22}>3</T>
        <T x={445} y={977} s={33}>)</T>
        <T x={467} y={918} s={32}>(a)</T>
        <T x={109} y={1135} s={33}>P</T>
        <text x={132} y={1145} fontSize={24} fontFamily={LS} fill="#111"><tspan fontWeight="normal">α</tspan><tspan fontWeight="bold">,i</tspan></text>
        <Radius x={295} y={1253} />

        {/* panel 6 */}
        <T x={634} y={917} s={33}>P</T>
        <T x={657} y={931} s={24}>rad</T>
        <T x={695} y={917} s={34} w="normal">(ρ)</T>
        <text x={756} y={917} fontSize={33} fontWeight="bold" fontFamily={LS} fill="#111"><tspan>(M</tspan><tspan dx={7}>W/m</tspan></text>
        <T x={884} y={903} s={22}>3</T>
        <T x={902} y={917} s={33}>)</T>
        <T x={636} y={1143} s={32}>(b)</T>
        <Legend x={903} y={962} w={143} h={201} tx={910} ty={993} step={33} />
        <Radius x={831} y={1253} />
      </svg>
    </div>
  );
}
